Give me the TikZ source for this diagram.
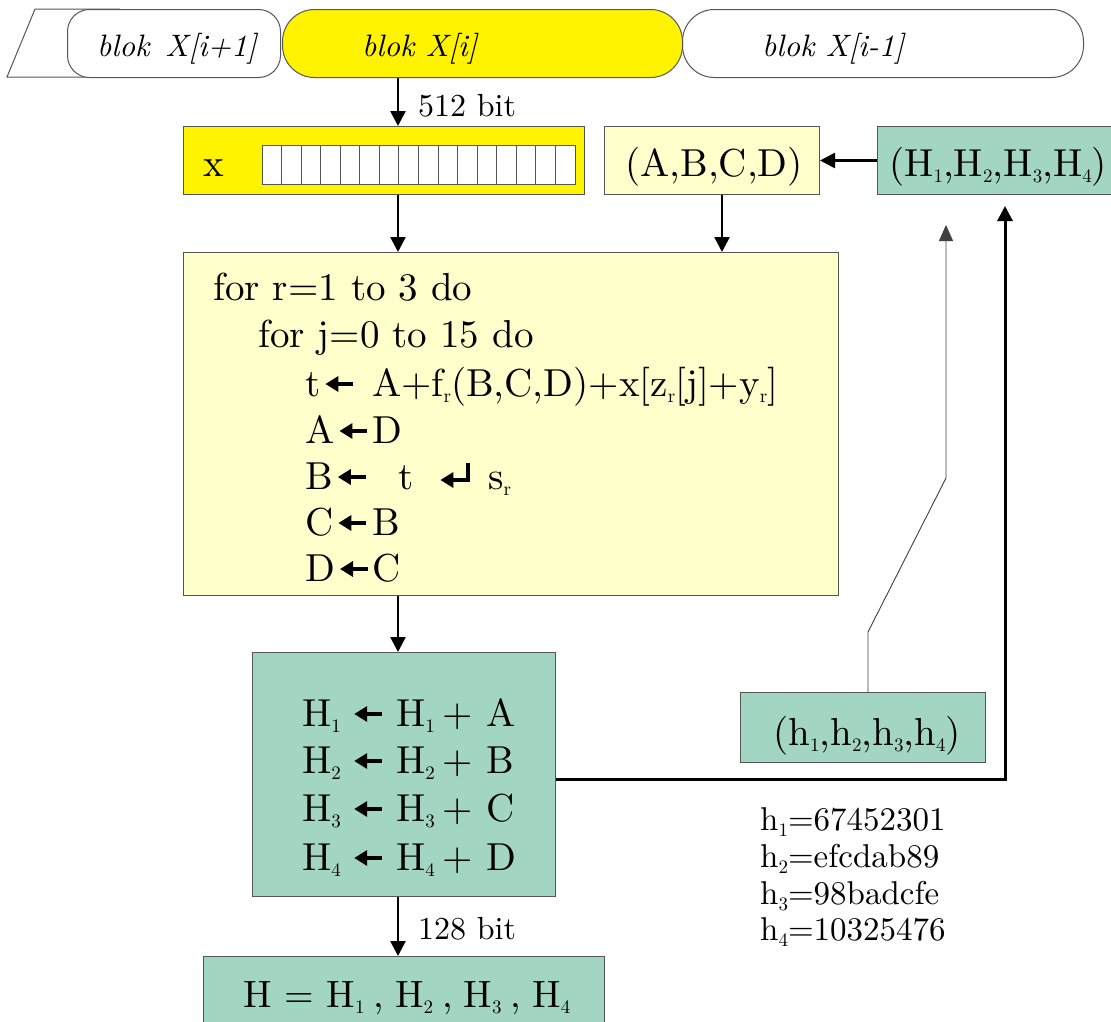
\documentclass[tikz,border=0pt]{standalone}
\usepackage{fontspec}
\setmainfont{lmroman10-regular.otf}[ItalicFont=lmroman10-italic.otf]
\usetikzlibrary{arrows.meta,calc}
\definecolor{yel}{RGB}{255,243,0}
\definecolor{lyel}{RGB}{255,255,204}
\definecolor{teal2}{RGB}{163,214,194}
\definecolor{bord}{RGB}{85,85,85}
\newcommand\larr{\tikz[baseline=0pt]{\draw[line width=4pt,-{Triangle[length=13pt,width=15pt]}] (28pt,12pt) -- (0pt,12pt);}}
\newcommand\retarr{\tikz[baseline=0pt]{\draw[line width=4pt,-{Triangle[length=13pt,width=15pt]}] (28pt,26pt) -- (28pt,9pt) -- (0pt,9pt);}}
\newcommand\lowidx[1]{\raisebox{-6pt}{\fontsize{19}{19}\selectfont #1}}
\begin{document}
\begin{tikzpicture}[x=1pt,y=-1pt,
  box/.style={draw=bord,line width=1pt,inner sep=0pt,anchor=north west},
  txt/.style={anchor=base west,inner sep=0pt,font=\fontsize{39}{47}\selectfont},
  small/.style={anchor=base west,inner sep=0pt,font=\fontsize{32}{37}\selectfont},
  ital/.style={anchor=base west,inner sep=0pt,font=\fontsize{31}{36}\selectfont\itshape},
  arr/.style={line width=2.6pt,-{Triangle[length=15pt,width=15pt]}},
  thinarr/.style={line width=0.9pt,draw=black!75,-{Triangle[length=16pt,width=14pt]}}]
\useasboundingbox (0,0) rectangle (1111,1021);
\fill[white] (0,0) rectangle (1111,1021);
% top row
\draw[bord,line width=1pt,fill=white] (120,9) -- (35,9) -- (7,77) -- (120,77);
\node[box,fill=white,rounded corners=22pt,minimum width=213pt,minimum height=68pt] (blok1) at (67,9) {};
\node[box,fill=white,rounded corners=32pt,minimum width=401pt,minimum height=68pt] (blok2) at (682,9) {};
\node[box,fill=yel,rounded corners=32pt,minimum width=400pt,minimum height=68pt] (blokY) at (282,9) {};
\node[ital] (t1) at (97,56) {blok\hspace{16pt}X[i+1]};
\node[ital] (tY) at (362,56) {blok X[i]};
\node[ital] (t2) at (762,56) {blok X[i-1]};
% columns
\coordinate (colA) at (398,0);
\coordinate (colB) at (722,0);
% x box
\node[box,fill=yel,minimum width=401pt,minimum height=68pt] (xbox) at (183,126) {};
\node[box,fill=white,minimum width=313pt,minimum height=39pt] (reg) at (262,145) {};
\foreach \i in {1,...,15} \draw[bord,line width=1pt] ($(reg.north west)+(\i*19.5625,0)$) -- ($(reg.south west)+(\i*19.5625,0)$);
\node[txt] (xlab) at (203,176) {x};
\node[small] (b512) at (418,116) {512 bit};
% ABCD, H
\node[box,fill=lyel,minimum width=215pt,minimum height=68pt] (abcd) at (604,126) {};
\node[txt] (abcdt) at (625,176) {(A,B,C,D)};
\node[box,fill=teal2,minimum width=260pt,minimum height=68pt] (hbox) at (877,126) {};
\node[txt] (hboxt) at (889,176) {(H\lowidx{1},H\lowidx{2},H\lowidx{3},H\lowidx{4})};
% for box
\node[box,fill=lyel,minimum width=655pt,minimum height=343pt] (forbox) at (183,252) {};
\node[txt] (l1) at (213,300) {for r=1 to 3 do};
\node[txt] (l2) at (258,347) {for j=0 to 15 do};
\node[txt] (l3) at (305,396) {\makebox[67pt][l]{t\hspace{3pt}\larr}A+f\lowidx{r}(B,C,D)+x[z\lowidx{r}[j]+y\lowidx{r}]};
\node[txt] (l4) at (305,443) {\makebox[67pt][l]{A\hspace{3pt}\larr}D};
\node[txt] (l5) at (305,489) {\makebox[67pt][l]{B\hspace{3pt}\larr}\hspace{26pt}t\hspace{25pt}\retarr\hspace{18pt}s\lowidx{r}};
\node[txt] (l6) at (305,535) {\makebox[67pt][l]{C\hspace{3pt}\larr}B};
\node[txt] (l7) at (305,581) {\makebox[67pt][l]{D\hspace{3pt}\larr}C};
% H update box
\node[box,fill=teal2,minimum width=303pt,minimum height=244pt] (hupd) at (252,652) {};
\foreach \k/\v/\yy in {1/A/726,2/B/773,3/C/821,4/D/870}
  \node[txt] (hu\k) at (302,\yy) {\makebox[50pt][l]{H\lowidx{\k}}\larr\hspace{12pt}\makebox[46pt][l]{H\lowidx{\k}}+\hspace{14pt}\v};
% h init box
\node[box,fill=teal2,minimum width=245pt,minimum height=70pt] (hinit) at (740,692) {};
\node[txt] (hinitt) at (773,745) {(h\lowidx{1},h\lowidx{2},h\lowidx{3},h\lowidx{4})};
% h values
\node[small,font=\fontsize{33}{37}\selectfont] (hv1) at (760,830) {h\lowidx{1}=67452301};
\node[small,font=\fontsize{33}{37}\selectfont] (hv2) at (760,867) {h\lowidx{2}=efcdab89};
\node[small,font=\fontsize{33}{37}\selectfont] (hv3) at (760,904) {h\lowidx{3}=98badcfe};
\node[small,font=\fontsize{33}{37}\selectfont] (hv4) at (760,940) {h\lowidx{4}=10325476};
% final box
\node[box,fill=teal2,minimum width=401pt,minimum height=85pt] (hfin) at (203,956) {};
\node[txt,font=\fontsize{38}{47}\selectfont] (hfint) at (243,1007) {H = H\lowidx{1}\hspace{9pt},\hspace{11pt}H\lowidx{2}\hspace{9pt},\hspace{11pt}H\lowidx{3}\hspace{9pt},\hspace{11pt}H\lowidx{4}};
\node[small] (b128) at (418,939) {128 bit};
% connectors
\draw[arr] (blokY.south -| colA) -- (xbox.north -| colA);
\draw[arr] (xbox.south -| colA) -- (forbox.north -| colA);
\draw[arr] (abcd.south -| colB) -- (forbox.north -| colB);
\draw[arr] (hbox.west) -- (abcd.east);
\draw[arr] (forbox.south -| colA) -- (hupd.north -| colA);
\draw[arr] (hupd.south -| colA) -- (hfin.north -| colA);
\coordinate (bendC) at (1005,779);
\coordinate (tipC) at (1005,206);
\draw[arr,line width=3pt] (hupd.east |- bendC) -- (bendC) -- (tipC);
\coordinate (k1) at (868,632);
\coordinate (k2) at (946,478);
\coordinate (tipD) at (946,225);
\draw[thinarr] (hinit.north -| k1) -- (k1) -- (k2) -- (tipD);
\end{tikzpicture}
\end{document}
